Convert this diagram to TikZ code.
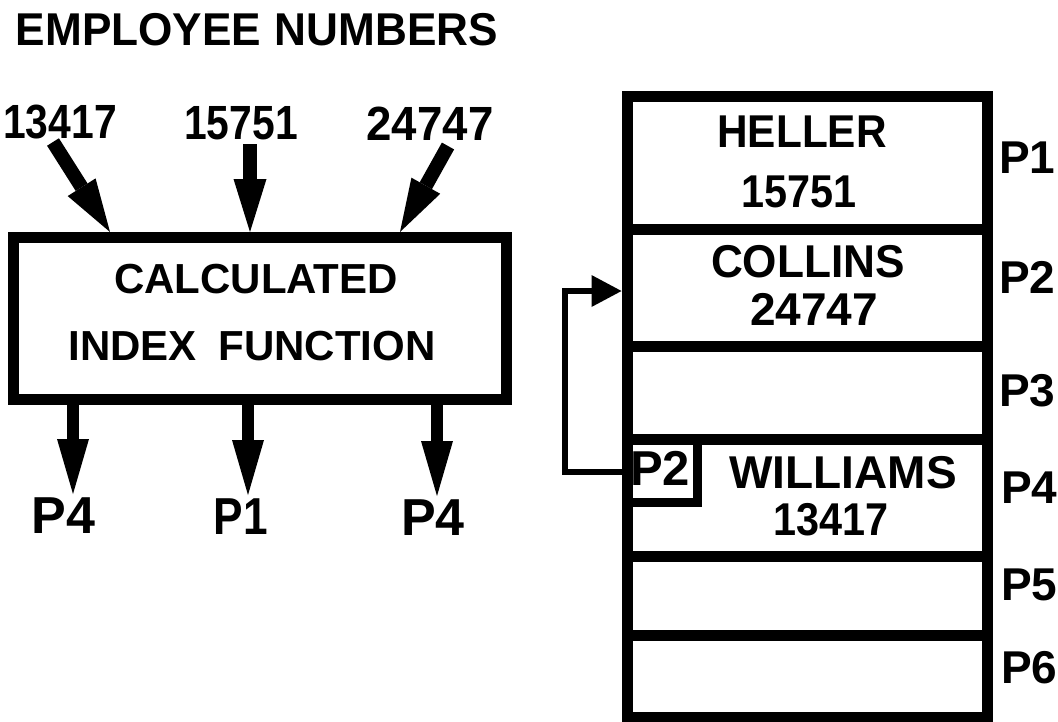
\documentclass[tikz,border=0pt]{standalone}
\usepackage{fontspec}
\usepackage{graphicx}
\setmainfont{Liberation Sans}
\usetikzlibrary{arrows.meta,calc}
\begin{document}
\begin{tikzpicture}[x=1pt,y=-1pt,
  txt/.style={inner sep=0pt, outer sep=0pt, anchor=base},
  ftitle/.style={font=\bfseries\fontsize{46}{46}\selectfont},
  fnum/.style={font=\bfseries\fontsize{48}{48}\selectfont},
  fbox/.style={font=\bfseries\fontsize{42}{42}\selectfont},
  fcell/.style={font=\bfseries\fontsize{46}{46}\selectfont},
  fptr/.style={font=\bfseries\fontsize{49}{49}\selectfont},
  fout/.style={font=\bfseries\fontsize{52}{52}\selectfont},
  cell/.style={draw, line width=11pt, minimum width=360pt, inner sep=0pt, outer sep=0pt},
  bigbox/.style={draw, line width=11pt, minimum width=493pt, minimum height=161.5pt, inner sep=0pt, outer sep=0pt},
  ptrbox/.style={draw, line width=9pt, minimum width=70pt, minimum height=63pt, inner sep=0pt, outer sep=0pt},
  inarrow/.style={line width=14pt, -{Triangle[length=53pt,width=33pt,line width=0pt]}},
  outarrow/.style={line width=12pt, -{Triangle[length=55pt,width=32pt,line width=0pt]}},
  fbarrow/.style={line width=6pt, -{Triangle[length=30pt,width=32pt,line width=0pt]}}
]
\useasboundingbox (0,0) rectangle (1058,721);

% title
\node[txt, ftitle] (title) at (257,45) {\scalebox{0.96}[1]{EMPLOYEE\hspace{14pt}NUMBERS}};

% input numbers
\node[txt, fnum] (n1) at (60,138) {\scalebox{0.85}[1]{13417}};
\node[txt, fnum] (n2) at (241,139) {\scalebox{0.85}[1]{15751}};
\node[txt, fnum] (n3) at (430,140) {\scalebox{0.95}[1]{24747}};

% function box
\node[bigbox] (cif) at (260,318.25) {};
\node[txt, fbox] (cif1) at (256,293) {CALCULATED};
\node[txt, fbox] (cif2) at (252,360) {INDEX\hspace{22pt}FUNCTION};

% input arrows
\draw[inarrow] ($(n1.base)+(-7,4)$) -- ($(cif.north west)+(96.5,-5.5)$);
\draw[inarrow] ($(n2.base)+(9,5)$) -- ($(cif.north west)+(236.5,-5.5)$);
\draw[inarrow] ($(n3.base)+(18,6)$) -- ($(cif.north west)+(386.5,-5.5)$);

% output labels
\node[txt, fout] (o1) at (63.5,533) {P4};
\node[txt, fout] (o2) at (241,534) {\scalebox{0.85}[1]{P1}};
\node[txt, fout] (o3) at (433,535) {P4};

% output arrows
\draw[outarrow] ($(cif.south west)+(59.5,0)$) -- ($(o1.base)+(9.5,-39)$);
\draw[outarrow] ($(cif.south west)+(234.5,0)$) -- ($(o2.base)+(7,-39)$);
\draw[outarrow] ($(cif.south west)+(423.5,0)$) -- ($(o3.base)+(4,-39)$);

% table rows
\node[cell, minimum height=133pt] (r1) at (807,162.5) {};
\node[cell, minimum height=117pt] (r2) at (807,287.5) {};
\node[cell, minimum height=93pt]  (r3) at (807,392.5) {};
\node[cell, minimum height=117pt] (r4) at (807,497.5) {};
\node[cell, minimum height=79pt]  (r5) at (807,595.5) {};
\node[cell, minimum height=82pt]  (r6) at (807,676) {};

% row contents
\node[txt, fcell] (h1) at (802,147) {\scalebox{0.92}[1]{HELLER}};
\node[txt, fcell] (h2) at (799,207) {\scalebox{0.9}[1]{15751}};
\node[txt, fcell] (c1) at (808,277) {\scalebox{0.96}[1]{COLLINS}};
\node[txt, fcell] (c2) at (814,325) {24747};
\node[txt, fcell] (w1) at (843,488) {WILLIAMS};
\node[txt, fcell] (w2) at (831,535) {\scalebox{0.9}[1]{13417}};

% pointer box
\node[ptrbox] (ptr) at (662,470.5) {};
\node[txt, fptr] (ptrt) at (660,485) {P2};

% row labels
\node[txt, fcell, anchor=base west] (l1) at (999,173) {P1};
\node[txt, fcell, anchor=base west] (l2) at (999,293) {P2};
\node[txt, fcell, anchor=base west] (l3) at (999,406) {P3};
\node[txt, fcell, anchor=base west] (l4) at (1001,503) {P4};
\node[txt, fcell, anchor=base west] (l5) at (1001,600) {P5};
\node[txt, fcell, anchor=base west] (l6) at (1001,683) {P6};

% chain pointer
\draw[fbarrow] ($(ptr.west)+(0,1.5)$) -- ++(-62,0) |- ($(r2.west)+(-5.5,3.5)$);
\end{tikzpicture}
\end{document}
